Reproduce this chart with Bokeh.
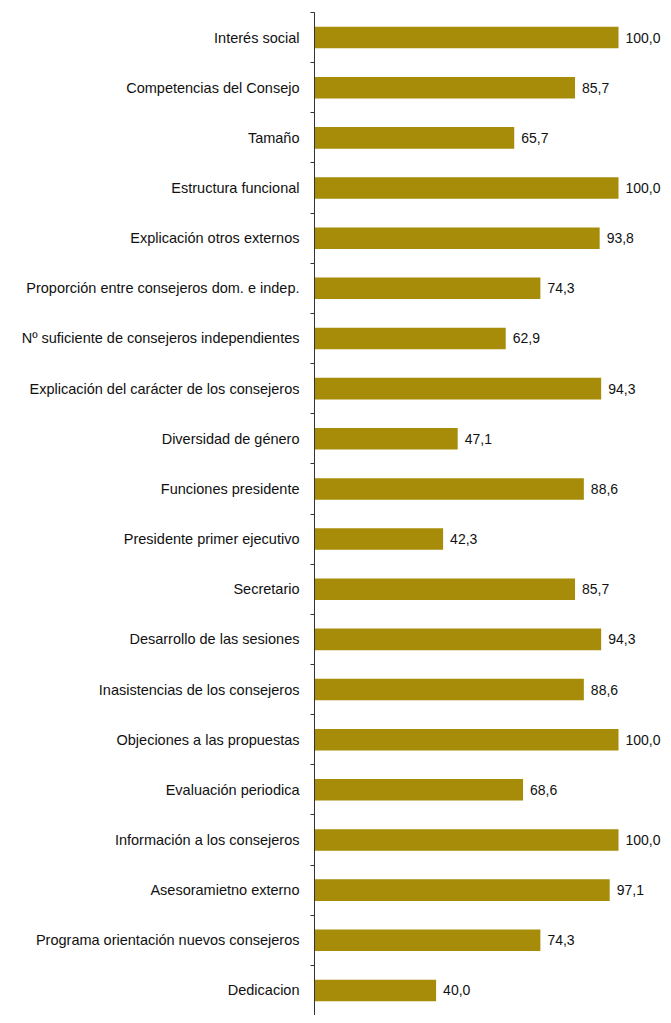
from bokeh.plotting import figure
from bokeh.models import ColumnDataSource, FixedTicker, Range1d, LabelSet
from bokeh.core.properties import value
from bokeh.embed import file_html
from bokeh.resources import INLINE

categories = [
    "Interés social",
    "Competencias del Consejo",
    "Tamaño",
    "Estructura funcional",
    "Explicación otros externos",
    "Proporción entre consejeros dom. e indep.",
    "Nº suficiente de consejeros independientes",
    "Explicación del carácter de los consejeros",
    "Diversidad de género",
    "Funciones presidente",
    "Presidente primer ejecutivo",
    "Secretario",
    "Desarrollo de las sesiones",
    "Inasistencias de los consejeros",
    "Objeciones a las propuestas",
    "Evaluación periodica",
    "Información a los consejeros",
    "Asesoramietno externo",
    "Programa orientación nuevos consejeros",
    "Dedicacion",
]
values = [100.0, 85.7, 65.7, 100.0, 93.8, 74.3, 62.9, 94.3, 47.1, 88.6,
          42.3, 85.7, 94.3, 88.6, 100.0, 68.6, 100.0, 97.1, 74.3, 40.0]

n = len(categories)
ypos = [n - 1 - i for i in range(n)]
labels = [f"{v:.1f}".replace(".", ",") for v in values]

source = ColumnDataSource(dict(y=ypos, v=values, cat=categories, lab=labels))

p = figure(width=663, height=1015, output_backend="svg", toolbar_location=None,
           x_range=Range1d(0, 114.8), y_range=Range1d(-0.5, n - 0.5),
           min_border_left=314, min_border_right=0, min_border_top=12,
           min_border_bottom=0)

p.hbar(y="y", left=0, right="v", height=0.43, source=source,
       fill_color="#A68C08", line_color=None)

p.add_layout(LabelSet(x="v", y="y", text="lab", source=source, x_offset=7,
                      text_baseline="middle", text_font=value("Liberation Sans"),
                      text_font_size="14px", text_color="#111111"))

p.xaxis.visible = False
p.xgrid.visible = False
p.ygrid.visible = False
p.outline_line_color = None

yax = p.yaxis[0]
yax.ticker = FixedTicker(ticks=ypos, minor_ticks=[k + 0.5 for k in range(-1, n)])
yax.major_label_overrides = {yv: c for yv, c in zip(ypos, categories)}
yax.major_tick_out = 0
yax.major_tick_in = 0
yax.minor_tick_out = 4
yax.minor_tick_in = 0
yax.axis_line_color = "#333333"
yax.minor_tick_line_color = "#333333"
yax.major_label_text_font = "Liberation Sans"
yax.major_label_text_font_size = "14.5px"
yax.major_label_text_color = "#111111"
yax.major_label_standoff = 11

open("out.html", "w").write(file_html(p, INLINE))
